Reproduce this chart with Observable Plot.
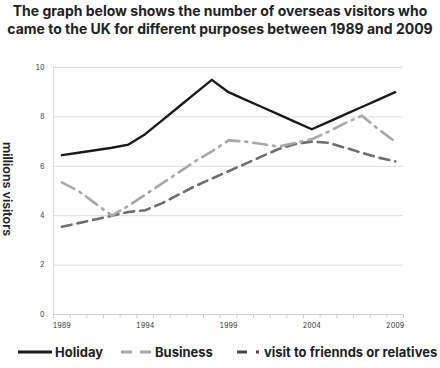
<!DOCTYPE html>
<html><head><meta charset="utf-8">
<script src="https://cdn.jsdelivr.net/npm/d3@7"></script>
<script src="https://cdn.jsdelivr.net/npm/@observablehq/plot@0.6"></script>
<style>
body{margin:0;background:#fff;font-family:Inter,"Open Sans",sans-serif;}
#wrap{position:relative;width:440px;height:368px;overflow:hidden;}
#title{position:absolute;top:2px;left:0;width:440px;text-align:center;font-weight:700;font-size:14px;line-height:18px;color:#222;}
#chart{position:absolute;top:50px;left:0;}
#ylab{position:absolute;left:7px;top:189px;transform:translate(-50%,-50%) rotate(90deg);white-space:nowrap;font-weight:600;font-size:12.5px;color:#222;}
.lg{position:absolute;top:343px;font-weight:700;font-size:13px;color:#222;white-space:nowrap;line-height:18px;}
.sw{position:absolute;top:344px;}
</style></head>
<body>
<div id="wrap">
  <div id="title">The graph below shows the number of overseas visitors who<br>came to the UK for different purposes between 1989 and 2009</div>
  <div id="chart"></div>
  <div id="ylab">millions visitors</div>
  <div id="legend"></div>
</div>
<script>
const years = [1989,1990,1991,1992,1993,1994,1995,1996,1997,1998,1999,2000,2001,2002,2003,2004,2005,2006,2007,2008,2009];
const holiday = [6.45,6.55,6.65,6.75,6.88,7.3,7.85,8.4,8.95,9.5,9.0,8.7,8.4,8.1,7.8,7.5,7.8,8.1,8.4,8.7,9.0];
const business = [5.35,5.0,4.5,4.0,4.4,4.85,5.3,5.75,6.2,6.6,7.05,7.0,6.9,6.8,6.95,7.1,7.4,7.75,8.05,7.5,7.0];
const visits = [3.55,3.7,3.85,4.0,4.15,4.22,4.5,4.85,5.2,5.5,5.8,6.1,6.4,6.7,6.9,7.0,6.95,6.75,6.55,6.35,6.2];
const seriesNames = ["Holiday","Business","visit to friennds or relatives"];
const xTickYears = [1989,1994,1999,2004,2009];
const yTicks = [0,2,4,6,8,10];

const halfYears = [years[0]-0.5, ...years.map(y => y+0.5)];
const rows = (vals) => years.map((yr,i) => ({year: yr, value: vals[i]}));

const chart = Plot.plot({
  width: 440, height: 285,
  marginLeft: 53, marginRight: 37, marginTop: 17, marginBottom: 21,
  style: {background: "transparent", fontFamily: "Inter, sans-serif"},
  x: {domain: [halfYears[0], halfYears[halfYears.length-1]], label: null},
  y: {domain: [0, 10], label: null},
  marks: [
    Plot.gridY(yTicks, {stroke: "#dcdcdc", strokeOpacity: 1}),
    Plot.ruleX([halfYears[0]], {stroke: "#dcdcdc"}),
    Plot.ruleY([0], {stroke: "#cfcfcf"}),
    Plot.axisX(halfYears, {tickSize: 4, tickFormat: () => "", stroke: "#cfcfcf", label: null}),
    Plot.axisX(xTickYears, {tickSize: 0, tickPadding: 9, tickFormat: d => String(d), fontSize: 7, fill: "#333", label: null}),
    Plot.axisY(yTicks, {tickSize: 0, tickPadding: 9, fontSize: 7, fill: "#333", label: null}),
    Plot.line(rows(visits), {x: "year", y: "value", stroke: "#6e6e6e", strokeWidth: 2.6, strokeDasharray: "10,6"}),
    Plot.line(rows(business), {x: "year", y: "value", stroke: "#a8a8a8", strokeWidth: 2.6, strokeDasharray: "14,6,2,6"}),
    Plot.line(rows(holiday), {x: "year", y: "value", stroke: "#1a1a1a", strokeWidth: 2.4})
  ]
});
document.getElementById("chart").appendChild(chart);

// legend
const legend = document.getElementById("legend");
const items = [
  {name: seriesNames[0], swLeft: 18, swW: 34, textLeft: 55, color: "#1a1a1a", dash: ""},
  {name: seriesNames[1], swLeft: 121, swW: 31, textLeft: 155, color: "#a8a8a8", dash: "11,8"},
  {name: seriesNames[2], swLeft: 237, swW: 24, textLeft: 264, color: "#444", dash: "10,9,3,9"}
];
items.forEach(it => {
  const sw = document.createElementNS("http://www.w3.org/2000/svg","svg");
  sw.setAttribute("class","sw");
  sw.setAttribute("width", it.swW); sw.setAttribute("height", 16);
  sw.style.left = it.swLeft + "px";
  const ln = document.createElementNS("http://www.w3.org/2000/svg","line");
  ln.setAttribute("x1",0); ln.setAttribute("x2",it.swW); ln.setAttribute("y1",8); ln.setAttribute("y2",8);
  ln.setAttribute("stroke", it.color); ln.setAttribute("stroke-width", 3);
  if (it.dash) ln.setAttribute("stroke-dasharray", it.dash);
  sw.appendChild(ln);
  legend.appendChild(sw);
  const t = document.createElement("div");
  t.className = "lg"; t.style.left = it.textLeft + "px"; t.textContent = it.name;
  legend.appendChild(t);
});
</script>
</body></html>
